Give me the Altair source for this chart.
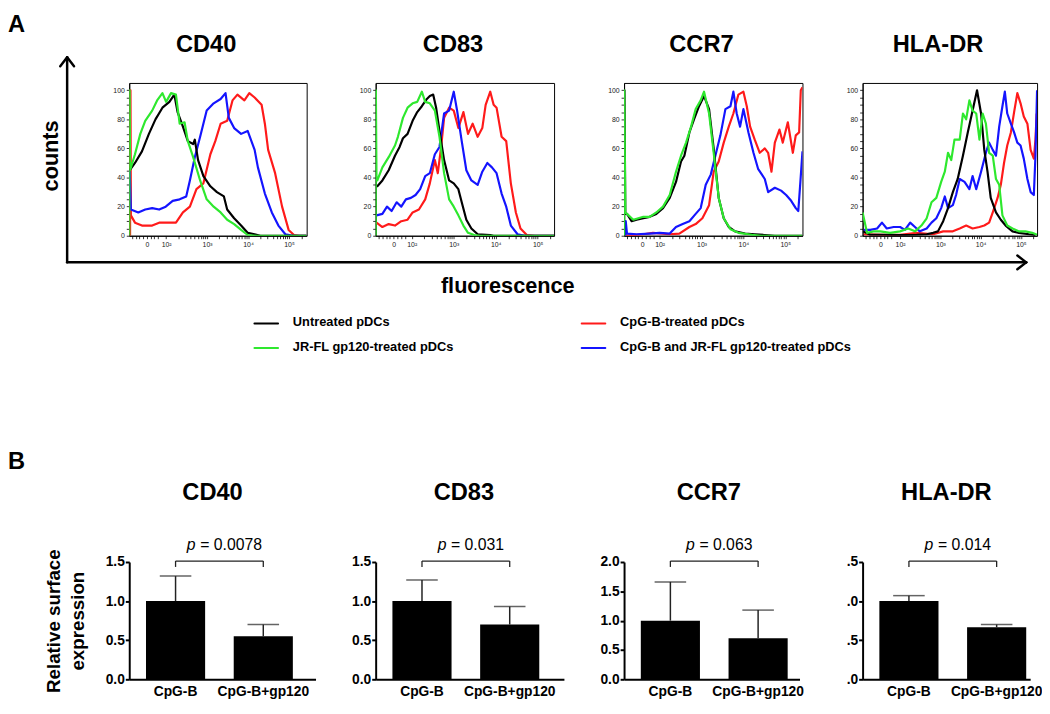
import math
import altair as alt
import pandas as pd

FONT = "Liberation Sans"
NARROW = "Liberation Sans Narrow, Liberation Sans"

SERIES = ["Untreated pDCs", "CpG-B-treated pDCs",
          "JR-FL gp120-treated pDCs", "CpG-B and JR-FL gp120-treated pDCs"]
COLORS = ["#000000", "#ff1a1a", "#2ee82e", "#1414ff"]

# ---------------- histogram curves: (log10 fluorescence position, % of max) ----------------
CD40_UNTREATED = [(1.11,45),(1.24,50),(1.41,58),(1.58,70),(1.74,80),(1.91,88),(2.08,92),(2.20,97),(2.28,85),(2.41,75),(2.53,65),(2.66,63),(2.70,66),(2.78,52),(2.91,41),(3.08,34),(3.24,30),(3.41,27),(3.49,18),(3.66,12),(3.83,7),(3.99,2),(4.16,1),(4.30,0),(5.43,0)]
CD40_GP120 = [(1.10,0),(1.11,100),(1.12,45),(1.24,56),(1.37,70),(1.49,79),(1.66,86),(1.78,93),(1.91,98),(2.00,92),(2.12,98),(2.24,97),(2.33,77),(2.45,78),(2.53,65),(2.66,54),(2.83,38),(2.99,25),(3.16,20),(3.33,16),(3.49,11),(3.66,8),(3.83,4),(3.99,0.5),(4.20,0),(5.43,0)]
CD40_CPGB = [(1.12,0),(1.13,100),(1.14,14),(1.24,9),(1.41,7),(1.66,7),(1.83,9),(2.00,9),(2.24,9),(2.41,16),(2.58,20),(2.74,32),(2.91,36),(3.08,56),(3.20,65),(3.33,77),(3.49,79),(3.62,93),(3.74,97),(3.91,93),(4.03,98),(4.16,95),(4.33,90),(4.41,77),(4.49,59),(4.66,43),(4.83,20),(4.99,4),(5.12,0.5),(5.25,0),(5.43,0)]
CD40_BOTH = [(1.11,45),(1.14,18),(1.32,16),(1.49,18),(1.66,19),(1.83,18),(1.99,20),(2.16,24),(2.33,25),(2.49,27),(2.58,38),(2.70,54),(2.83,68),(2.99,86),(3.16,91),(3.33,94),(3.45,98),(3.53,81),(3.66,74),(3.83,70),(3.99,72),(4.16,59),(4.24,47),(4.41,29),(4.58,16),(4.74,7),(4.91,1),(5.10,0),(5.43,0)]

CD83_UNTREATED = [(1.15,34),(1.18,34),(1.30,38),(1.45,45),(1.60,55),(1.71,61),(1.79,67),(1.90,70),(2.02,79),(2.13,85),(2.24,89),(2.36,94),(2.43,96),(2.51,97),(2.58,88),(2.66,72),(2.77,52),(2.89,38),(3.00,36),(3.11,32),(3.19,23),(3.30,11),(3.42,5),(3.57,1),(3.87,0.5),(3.95,0),(5.39,0)]
CD83_GP120 = [(1.14,0),(1.145,100),(1.16,38),(1.18,38),(1.30,47),(1.45,54),(1.60,62),(1.67,68),(1.79,81),(1.90,88),(2.02,91),(2.13,92),(2.24,99),(2.32,92),(2.43,91),(2.55,86),(2.66,68),(2.77,43),(2.89,25),(3.00,20),(3.11,14),(3.23,7),(3.34,2),(3.49,0.5),(3.64,0),(5.39,0)]
CD83_CPGB = [(1.16,9),(1.30,6),(1.45,8),(1.60,7),(1.75,10),(1.90,11),(2.02,16),(2.17,18),(2.32,25),(2.43,36),(2.55,52),(2.62,43),(2.70,61),(2.77,81),(2.89,88),(3.00,86),(3.11,74),(3.23,85),(3.34,70),(3.45,77),(3.57,68),(3.68,74),(3.76,90),(3.87,99),(3.95,90),(4.02,88),(4.14,68),(4.25,65),(4.36,36),(4.48,16),(4.59,5),(4.74,0.5),(4.93,0),(5.39,0)]
CD83_BOTH = [(1.16,14),(1.30,15),(1.41,20),(1.52,17),(1.64,23),(1.75,20),(1.86,25),(1.98,26),(2.09,28),(2.20,32),(2.32,41),(2.43,43),(2.55,56),(2.66,61),(2.77,84),(2.89,86),(3.00,99),(3.08,86),(3.19,65),(3.30,45),(3.42,38),(3.57,35),(3.68,44),(3.80,50),(3.91,47),(4.02,43),(4.14,29),(4.25,20),(4.36,7),(4.52,1),(4.70,0),(5.39,0)]

CCR7_UNTREATED = [(1.15,0),(1.16,100),(1.18,15),(1.22,15),(1.33,10),(1.45,11),(1.61,12),(1.76,13),(1.92,15),(2.08,19),(2.24,26),(2.39,37),(2.51,51),(2.59,55),(2.71,71),(2.82,80),(2.94,89),(3.06,96),(3.18,87),(3.29,60),(3.41,26),(3.53,12),(3.65,6),(3.80,3),(4.04,1.5),(4.27,1),(4.51,0.5),(4.75,0),(5.41,0)]
CCR7_GP120 = [(1.15,0),(1.155,100),(1.18,16),(1.22,15),(1.37,11),(1.49,12),(1.61,13),(1.76,13),(1.92,16),(2.08,20),(2.24,28),(2.39,44),(2.51,55),(2.63,64),(2.75,75),(2.86,87),(2.98,93),(3.06,99),(3.18,84),(3.29,57),(3.41,26),(3.53,12),(3.69,4.5),(3.88,2),(4.20,0.7),(4.43,0),(5.41,0)]
CCR7_CPGB = [(1.18,0),(1.61,1),(1.84,2),(2.24,1),(2.47,1.5),(2.71,6),(2.86,8),(3.02,12),(3.18,21),(3.29,44),(3.41,51),(3.53,64),(3.65,75),(3.76,84),(3.88,97),(4.00,99),(4.08,89),(4.16,75),(4.27,66),(4.39,57),(4.51,60),(4.59,57),(4.67,44),(4.75,64),(4.86,73),(4.94,64),(5.06,78),(5.18,57),(5.25,69),(5.33,71),(5.37,100),(5.41,102)]
CCR7_BOTH = [(1.18,0),(1.19,10),(1.22,1.5),(1.45,1),(1.76,1.5),(2.00,2),(2.24,1.5),(2.39,6),(2.55,8),(2.71,10),(2.86,15),(2.98,19),(3.10,35),(3.22,42),(3.33,55),(3.45,69),(3.57,87),(3.69,89),(3.76,99),(3.84,84),(3.92,75),(4.00,87),(4.12,71),(4.24,57),(4.35,46),(4.51,39),(4.59,30),(4.75,33),(4.90,31),(5.02,28),(5.14,24),(5.25,19),(5.31,17),(5.36,37),(5.41,58)]

HLA_UNTREATED = [(1.08,3),(1.26,0.7),(1.59,0.7),(2.00,0.5),(2.41,0.7),(2.66,1),(2.82,2),(2.94,3),(3.07,10),(3.19,19),(3.31,30),(3.43,39),(3.56,55),(3.68,71),(3.80,86),(3.91,100),(4.01,84),(4.09,59),(4.17,44),(4.25,26),(4.38,16),(4.50,11),(4.62,7),(4.79,3),(4.95,2),(5.20,1),(5.36,0.5)]
HLA_GP120 = [(1.07,16),(1.18,2),(1.34,3),(1.51,3),(1.75,2),(2.00,3),(2.20,5),(2.37,3),(2.53,7),(2.66,12),(2.78,23),(2.90,26),(3.02,37),(3.11,44),(3.19,57),(3.27,52),(3.35,66),(3.48,66),(3.56,84),(3.64,80),(3.72,93),(3.80,86),(3.89,84),(3.97,66),(4.05,84),(4.13,77),(4.21,57),(4.30,55),(4.38,39),(4.46,35),(4.54,14),(4.66,7),(4.79,5),(4.95,3),(5.11,3),(5.28,2),(5.40,0.7)]
HLA_CPGB = [(1.10,1),(1.59,0.7),(2.00,0.7),(2.41,2),(2.82,1),(3.07,3),(3.31,3),(3.48,5),(3.64,7),(3.80,5),(3.97,6),(4.09,7),(4.21,9),(4.30,16),(4.42,26),(4.50,35),(4.58,50),(4.66,62),(4.75,71),(4.83,85),(4.91,98),(4.99,91),(5.07,82),(5.16,77),(5.24,59),(5.32,53),(5.36,66),(5.39,84)]
HLA_BOTH = [(1.10,4),(1.26,4),(1.43,5),(1.55,9),(1.67,5),(1.84,6),(2.00,6),(2.12,4),(2.25,9),(2.37,6),(2.49,3),(2.66,5),(2.78,9),(2.90,12),(3.02,19),(3.11,27),(3.19,19),(3.31,21),(3.39,28),(3.48,39),(3.60,37),(3.72,32),(3.80,41),(3.89,32),(4.01,44),(4.13,57),(4.21,64),(4.30,59),(4.38,55),(4.46,75),(4.54,89),(4.60,99),(4.66,84),(4.75,77),(4.83,71),(4.91,64),(4.99,62),(5.07,53),(5.16,39),(5.24,30),(5.32,28),(5.36,55),(5.40,100)]

# ---------------- bar charts (relative surface expression) ----------------
GROUPS = ["CpG-B", "CpG-B+gp120"]
CD40_MEAN = [1.00, 0.55]
CD40_ERR = [0.32, 0.15]
CD83_MEAN = [1.00, 0.70]
CD83_ERR = [0.27, 0.23]
CCR7_MEAN = [1.00, 0.70]
CCR7_ERR = [0.66, 0.48]
HLA_MEAN = [1.00, 0.665]
HLA_ERR = [0.07, 0.035]
P_VALUES = ["0.0078", "0.031", "0.063", "0.014"]

DEC = pd.DataFrame({"k": [0]})


def prule(x1, y1, x2, y2, w=2.5, color="black"):
    return alt.Chart(DEC).mark_rule(strokeWidth=w, color=color, strokeCap="round").encode(
        x=alt.value(x1), y=alt.value(y1), x2=alt.value(x2), y2=alt.value(y2))


def ptext(s, x, y, size, weight="bold", align="center", baseline="middle",
          angle=0, style="normal", font=FONT, color="black"):
    return alt.Chart(DEC).mark_text(
        text=s, fontSize=size, fontWeight=weight, align=align, baseline=baseline,
        angle=angle, fontStyle=style, font=font, color=color).encode(
        x=alt.value(x), y=alt.value(y))


def curves_df(curves):
    rows = []
    for name, pts in curves:
        for i, (d, c) in enumerate(pts):
            rows.append({"series": name, "d": d, "count": c, "i": i})
    return pd.DataFrame(rows)


def hist_panel(title, curves, dom, zero, width):
    df = curves_df(curves)
    minors = []
    for dec in range(2, 6):
        for k in range(2, 10):
            v = round(dec + math.log10(k), 4)
            if v < dom[1]:
                minors.append(v)
    for off in (-0.36, -0.27, -0.18, -0.09, 0.09, 0.18, 0.27):
        v = round(zero + off, 3)
        if v > dom[0]:
            minors.append(v)
    xvals = [zero, 2, 3, 4, 5] + minors
    labexpr = (f"datum.value == {zero} ? '0' : datum.value == 2 ? '10²' : "
               "datum.value == 3 ? '10³' : datum.value == 4 ? '10⁴' : "
               "datum.value == 5 ? '10⁵' : ''")
    common = dict(tickSize=3, tickColor="black", domainColor="black", labelFontSize=7,
                  labelFont=FONT, labelColor="#222", labelPadding=2, labelOverlap=False,
                  labelFlush=False, grid=False, tickWidth=0.8, domainWidth=1)
    lines = alt.Chart(df).mark_line(strokeWidth=2.2, clip=True, strokeJoin="round").encode(
        x=alt.X("d:Q", title=None, scale=alt.Scale(domain=dom, nice=False, zero=False),
                axis=alt.Axis(values=xvals, labelExpr=labexpr, **common)),
        y=alt.Y("count:Q", title=None, scale=alt.Scale(domain=[0, 105], nice=False),
                axis=alt.Axis(values=list(range(0, 101, 5)),
                              labelExpr="datum.value % 20 == 0 ? datum.label : ''", **common)),
        color=alt.Color("series:N", scale=alt.Scale(domain=SERIES, range=COLORS), legend=None),
        order=alt.Order("i:Q"),
    )
    return lines.properties(
        width=width, height=155,
        title=alt.TitleParams(title, font=FONT, fontSize=24, fontWeight="bold",
                              offset=26, dx=-12, color="black"),
        view=alt.ViewBackground(stroke="black", strokeWidth=1))


def bar_panel(title, means, errs, ymax, pval, W, first=False, trunc=False, tdx=0):
    df = pd.DataFrame({"group": GROUPS, "mean": means,
                       "upper": [m + e for m, e in zip(means, errs)]})
    step, start, pin = 89.0, 17.0, 0.326
    po = (W / step - (2 - pin)) / 2
    al = start / (W - step * (2 - pin))
    xs = alt.Scale(domain=GROUPS, paddingInner=pin, paddingOuter=po, align=al)
    xaxis = alt.Axis(labelAngle=0, ticks=False, domainWidth=2, domainColor="black",
                     labelFont=FONT, labelFontSize=14, labelFontWeight="bold",
                     labelColor="black", labelPadding=5, title=None)
    yvals = [i * 0.5 for i in range(int(round(ymax / 0.5)) + 1)]
    lab = "slice(format(datum.value, '.1f'), 1)" if trunc else "format(datum.value, '.1f')"
    yaxis = alt.Axis(values=yvals, labelExpr=lab, domainWidth=2, domainColor="black",
                     tickWidth=2, tickSize=4, tickColor="black", labelFont=FONT,
                     labelFontSize=14, labelFontWeight="bold", labelColor="black",
                     labelPadding=1, grid=False, labelOverlap=False, labelFlush=False,
                     labelSeparation=0,
                     title=["Relative surface", "expression"] if first else None,
                     titleFont=FONT, titleFontSize=19, titleFontWeight="bold",
                     titleColor="black", titlePadding=18, titleLineHeight=24)
    yscale = alt.Scale(domain=[0, ymax], nice=False)
    X = alt.X("group:N", scale=xs, axis=xaxis)
    base = alt.Chart(df)
    bars = base.mark_bar(color="black").encode(
        x=X, y=alt.Y("mean:Q", scale=yscale, axis=yaxis))
    err = base.mark_rule(color="#222", strokeWidth=1.5).encode(
        x=X, y=alt.Y("mean:Q", scale=yscale, axis=yaxis), y2="upper:Q")
    cap = base.mark_tick(color="#222", thickness=1.5, size=32, orient="horizontal").encode(
        x=X, y=alt.Y("upper:Q", scale=yscale, axis=yaxis))
    bracket = base.mark_line(color="#222", strokeWidth=1.3).encode(x=X, y=alt.value(-1))
    bticks = base.mark_rule(color="#222", strokeWidth=1.3).encode(
        x=X, y=alt.value(-1), y2=alt.value(5))
    rest = "= " + pval
    wtot = 16 * (0.556 + 0.278 + 0.584 + 0.278 + 0.278 + 0.556 * (len(pval) - 1))
    bw = step * (1 - pin)
    mid = start + step / 2 + bw / 2
    x0 = mid + 5 - wtot / 2
    ptxt = ptext("p", x0, -17, 16, weight="normal", align="left", style="italic")
    rtxt = ptext(rest, x0 + 13.5, -17, 16, weight="normal", align="left")
    return alt.layer(bars, err, cap, bracket, bticks, ptxt, rtxt).properties(
        width=W, height=119,
        title=alt.TitleParams(title, font=FONT, fontSize=24, fontWeight="bold",
                              offset=33, dx=tdx, color="black"),
        view=alt.ViewBackground(stroke=None))


def spacer(w, layers=None):
    base = alt.Chart(DEC).mark_point(opacity=0).encode(x=alt.value(0), y=alt.value(0))
    return alt.layer(base, *(layers or [])).properties(
        width=w, height=10, view=alt.ViewBackground(stroke=None))


# decorations of the upper block, relative to the upper spacer (page x 56, y 79)
deco_top = [
    ptext("A", -48, -71, 24, align="left", baseline="top"),
    prule(12, -26, 12, 182),
    prule(12, -26, 5, -17),
    prule(12, -26, 19, -17),
    prule(12, 182, 985, 182),
    prule(985, 182, 976, 175),
    prule(985, 182, 976, 189),
    ptext("counts", -4, 74, 22, angle=270),
    ptext("fluorescence", 459, 206, 22),
]
LEG_POS = [(202, 244), (534, 244), (202, 269), (534, 269)]
for name, col, (lx, ly) in zip(SERIES, COLORS, LEG_POS):
    deco_top.append(prule(lx, ly, lx + 24, ly, w=2, color=col))
    deco_top.append(ptext(name, lx + 39, ly - 1, 13, align="left", font=NARROW))

deco_bot = [ptext("B", -48, -113, 24, align="left", baseline="top")]

h40 = hist_panel("CD40", [("CpG-B-treated pDCs", CD40_CPGB), ("CpG-B and JR-FL gp120-treated pDCs", CD40_BOTH),
                          ("Untreated pDCs", CD40_UNTREATED), ("JR-FL gp120-treated pDCs", CD40_GP120)],
                 [1.10, 5.43], 1.53, 180)
h83 = hist_panel("CD83", [("CpG-B-treated pDCs", CD83_CPGB), ("CpG-B and JR-FL gp120-treated pDCs", CD83_BOTH),
                          ("Untreated pDCs", CD83_UNTREATED), ("JR-FL gp120-treated pDCs", CD83_GP120)],
                 [1.14, 5.39], 1.57, 181)
hccr7 = hist_panel("CCR7", [("CpG-B-treated pDCs", CCR7_CPGB), ("CpG-B and JR-FL gp120-treated pDCs", CCR7_BOTH),
                            ("Untreated pDCs", CCR7_UNTREATED), ("JR-FL gp120-treated pDCs", CCR7_GP120)],
                   [1.15, 5.41], 1.58, 181)
hhla = hist_panel("HLA-DR", [("CpG-B-treated pDCs", HLA_CPGB), ("CpG-B and JR-FL gp120-treated pDCs", HLA_BOTH),
                             ("Untreated pDCs", HLA_UNTREATED), ("JR-FL gp120-treated pDCs", HLA_GP120)],
                  [1.07, 5.40], 1.51, 177)

b40 = bar_panel("CD40", CD40_MEAN, CD40_ERR, 1.5, P_VALUES[0], 189, first=True, tdx=-10)
b83 = bar_panel("CD83", CD83_MEAN, CD83_ERR, 1.5, P_VALUES[1], 191, tdx=-6)
bccr7 = bar_panel("CCR7", CCR7_MEAN, CCR7_ERR, 2.0, P_VALUES[2], 178, tdx=-3)
bhla = bar_panel("HLA-DR", HLA_MEAN, HLA_ERR, 1.5, P_VALUES[3], 170, trunc=True)

chart = alt.concat(
    spacer(14, deco_top), h40, h83, hccr7, hhla,
    spacer(8, deco_bot), b40, b83, bccr7, bhla,
    columns=5, align="none", bounds="flush",
    spacing=alt.RowColnumber(row=331, column=61),
).properties(padding=0, background="white").configure_axis(grid=False)

chart.save("out.html", embed_options={"renderer": "svg", "actions": False})
